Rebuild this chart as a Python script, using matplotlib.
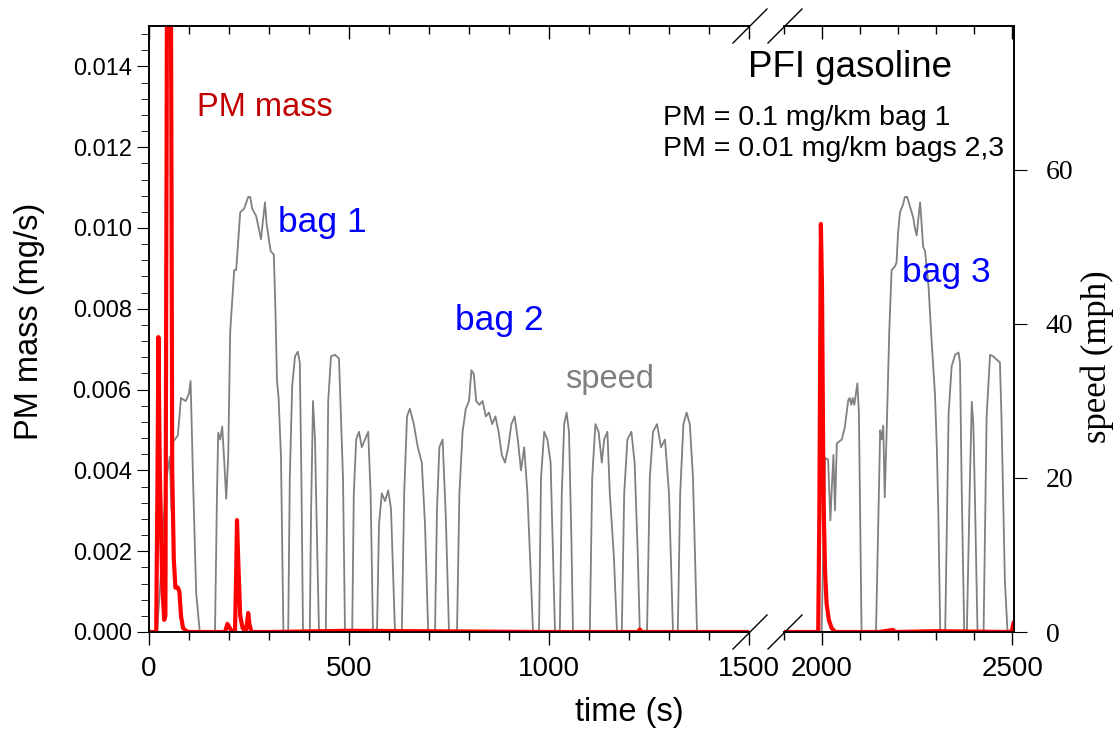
import numpy as np
import matplotlib.pyplot as plt
from matplotlib.ticker import MultipleLocator, AutoMinorLocator
from matplotlib.lines import Line2D

plt.rcParams['font.family'] = ['Liberation Sans', 'DejaVu Sans']

# PM mass (mg/s), cold start + bag 2
pm_t1 = [0, 18, 21, 23.5, 27, 33, 38, 41, 44, 47, 52, 56, 58, 62, 66, 72, 76, 80, 85, 92, 100,
         190, 196, 202, 208, 215, 218, 220, 223, 228, 234, 242, 246, 248, 251, 256, 262, 300, 500,
         1000, 1222, 1227, 1232, 1500]
pm_v1 = [0.0, 0.0, 0.0035, 0.0073, 0.004, 0.0012, 0.0003, 0.0004, 0.012, 0.025, 0.025, 0.012,
         0.004, 0.0018, 0.0011, 0.0011, 0.0010, 0.0004, 0.0001, 0.00003, 0.0,
         0.0, 0.0002, 0.0001, 0.0, 0.0, 0.0015, 0.00277, 0.0018, 0.0004, 0.0001, 0.0, 0.0003,
         0.00047, 0.0002, 0.0, 0.0, 0.0, 0.00003, 0.0, 0.0, 0.00006, 0.0, 0.0]

# PM mass, hot start (bag 3)
pm_t3 = [1900, 1990, 1993, 1997, 2000, 2003, 2005, 2008, 2012, 2018, 2025, 2035, 2150, 2187,
         2192, 2300, 2495, 2500, 2503, 2505]
pm_v3 = [0.0, 0.0, 0.003, 0.0101, 0.0085, 0.0045, 0.0028, 0.0015, 0.0007, 0.0003, 0.0001, 0.0,
         0.0, 0.00005, 0.0, 0.00002, 0.0, 0.00005, 0.0002, 0.00025]

# vehicle speed (mph), bag 1
sp_t_bag1 = [0, 20, 28, 36, 44, 52, 56, 60, 72, 80, 85, 92, 100, 104, 110, 118, 127,
             165, 170, 173, 178, 183, 188, 193, 198, 203, 213, 218, 228, 238, 248, 253, 258, 268,
             276, 280, 284, 290, 294, 304, 312, 316, 320, 324, 330, 336,
             348, 352, 358, 365, 372, 377, 381, 385, 402, 405, 410, 415, 420, 425, 432,
             442, 448, 455, 465, 475, 485, 490, 500]
sp_v_bag1 = [0, 0, 6, 14, 20, 22.8, 15.8, 24.7, 25.5, 30.4, 30.2, 30.0, 31.0, 32.6, 20, 5, 0,
             0, 18, 25.9, 25.0, 26.7, 22.3, 17.3, 22.7, 39.0, 47.0, 47.0, 54.5, 55.0, 56.5, 56.5,
             55.0, 54.0, 52.0, 51.0, 53.0, 55.8, 53.0, 49.5, 49.0, 42.0, 32.6, 30.4, 22.7, 0,
             0, 20, 32, 35.8, 36.4, 35.0, 20, 0, 0, 15, 30, 25, 12, 0, 0,
             0, 30, 35.8, 36, 35.5, 20, 0, 0]

# vehicle speed (mph), bag 2
sp_t_bag2 = [505, 508, 512, 518, 525, 532, 540, 548, 554, 560,
             570, 575, 582, 590, 598, 605, 610, 615,
             632, 638, 645, 652, 662, 672, 682, 690, 698,
             715, 720, 726, 734, 742, 750,
             770, 776, 784, 792, 800, 806, 812, 818, 826, 834, 842, 850, 858, 866, 874, 882,
             890, 898, 906, 914, 922, 930, 938, 946, 954, 960,
             975, 980, 988, 996, 1004, 1010, 1015,
             1027, 1032, 1038, 1044, 1050, 1056, 1060,
             1102, 1108, 1116, 1124, 1132, 1138, 1146, 1152, 1162, 1170,
             1182, 1188, 1196, 1206, 1214, 1222, 1227,
             1245, 1252, 1260, 1270, 1280, 1290, 1300, 1310,
             1322, 1328, 1336, 1344, 1352, 1360, 1366, 1370, 1500]
sp_v_bag2 = [0, 0, 18, 25, 26, 24, 25, 26, 18, 0,
             0, 14, 18, 17, 18.4, 16, 8, 0,
             0, 18, 28, 29, 27, 24, 22, 14, 0,
             0, 16, 24, 25, 15, 0,
             0, 18, 26, 29, 30, 34, 33.5, 30, 29.5, 30, 28, 28.5, 27, 28, 26, 23,
             22, 24, 27, 28, 25, 21, 24, 18, 8, 0,
             0, 20, 26, 25, 22, 10, 0,
             0, 18, 27, 28.5, 26, 12, 0,
             0, 20, 27, 26, 22, 25, 26, 18, 10, 0,
             0, 18, 25, 26, 22, 10, 0,
             0, 20, 26, 27, 24, 25, 18, 0,
             0, 18, 27, 28.5, 27, 20, 8, 0, 0]

# vehicle speed (mph), bag 3
sp_t3 = [1900, 1999, 2008, 2016, 2022, 2026, 2030, 2034, 2039, 2052, 2056, 2060, 2069, 2073,
         2077, 2081, 2085, 2093, 2097, 2104,
         2142, 2153, 2157, 2161, 2165, 2170, 2177, 2183, 2192, 2196, 2200, 2205, 2213, 2218,
         2224, 2230, 2236, 2240, 2244, 2249, 2253, 2258, 2262, 2266, 2271, 2280, 2288, 2297,
         2302, 2306, 2311,
         2324, 2333, 2341, 2350, 2359, 2363, 2367, 2374,
         2381, 2389, 2394, 2398, 2402, 2409,
         2425, 2433, 2442, 2450, 2459, 2468, 2472, 2481, 2488, 2505]
sp_v3 = [0, 0, 22.6, 22.4, 14.5, 19, 23.0, 15.8, 24.5, 25.0, 25.8, 26.6, 30.1, 30.4, 29.5,
         30.4, 29.5, 32.3, 28.5, 0,
         0, 26.2, 25.0, 26.8, 17.5, 26, 39.2, 47.0, 47.5, 48.0, 51.8, 54.5, 55.5, 56.5,
         56.5, 55.5, 54.5, 53.8, 52.5, 51.5, 53.5, 55.8, 53, 50.0, 49.5, 45, 38, 31.0, 24.0,
         15.4, 0,
         0, 28.4, 34.5, 36.0, 36.3, 35, 20, 0,
         0, 19.7, 29.9, 27, 18, 0,
         0, 28, 36.0, 35.8, 35.4, 35.0, 28, 6.7, 0, 0]

sp_t1 = sp_t_bag1 + sp_t_bag2
sp_v1 = sp_v_bag1 + sp_v_bag2

W, H = 1120, 732
fig = plt.figure(figsize=(W / 100, H / 100), dpi=100)
ax1 = fig.add_axes([149 / W, 1 - 632 / H, 600 / W, 606 / H])
ax3 = fig.add_axes([784 / W, 1 - 632 / H, 230 / W, 606 / H])
s1 = ax1.twinx()
s3 = ax3.twinx()

for s, t, v in [(s1, sp_t1, sp_v1), (s3, sp_t3, sp_v3)]:
    s.plot(t, v, color='gray', lw=1.3, zorder=1)
    s.set_ylim(0, 78.7)
for a, t, v in [(ax1, pm_t1, pm_v1), (ax3, pm_t3, pm_v3)]:
    a.set_zorder(s1.get_zorder() + 1)
    a.patch.set_visible(False)
    a.plot(t, v, color='red', lw=3, solid_capstyle='round', clip_on=True)
    a.set_ylim(0, 0.015)

ax1.set_xlim(0, 1500)
ax3.set_xlim(1900, 2505)

for a in (ax1, ax3):
    a.xaxis.set_major_locator(MultipleLocator(500))
    a.xaxis.set_minor_locator(MultipleLocator(100))
    a.tick_params(axis='x', which='both', top=True, bottom=True, labelsize=20, pad=8)
    a.tick_params(axis='x', which='major', length=9, width=1)
    a.tick_params(axis='x', which='minor', length=6, width=1)

ax1.xaxis.set_ticks([0, 500, 1000, 1500])
ax3.xaxis.set_ticks([2000, 2500])
# top ticks point inward, bottom ticks outward
for a in (ax1, ax3):
    for tk in a.xaxis.get_major_ticks() + a.xaxis.get_minor_ticks():
        tk.tick2line.set_marker(3)

ax1.spines['right'].set_visible(False)
ax3.spines['left'].set_visible(False)
s1.spines['right'].set_visible(False)
s3.spines['left'].set_visible(False)
s1.set_yticks([])
ax3.set_yticks([])

ax1.yaxis.set_major_locator(MultipleLocator(0.002))
ax1.yaxis.set_minor_locator(AutoMinorLocator(5))
ax1.yaxis.set_major_formatter(plt.FormatStrFormatter('%.3f'))
ax1.tick_params(axis='y', which='major', length=9, labelsize=17)
ax1.tick_params(axis='y', which='minor', length=6)

s3.set_yticks([0, 20, 40, 60])
s3.tick_params(axis='y', length=9, labelsize=20, pad=14)
for lab in s3.get_yticklabels():
    lab.set_fontfamily('Liberation Serif')

for a in (ax1, ax3, s1, s3):
    for sp in a.spines.values():
        sp.set_linewidth(1.2)

# break marks
d = 17
for xp in (750, 785):
    for yp in (26, 632):
        fig.add_artist(Line2D([(xp - d) / W, (xp + d) / W], [1 - (yp + d) / H, 1 - (yp - d) / H],
                              color='black', lw=1))


def ftext(x, y, s, **kw):
    fig.text(x / W, 1 - y / H, s, va='baseline', **kw)


ftext(197, 116, 'PM mass', color='#c00000', fontsize=23.5)
ftext(278, 232, 'bag 1', color='blue', fontsize=25.5)
ftext(455, 330, 'bag 2', color='blue', fontsize=25.5)
ftext(565, 388, 'speed', color='gray', fontsize=23.5)
ftext(902, 282, 'bag 3', color='blue', fontsize=25.5)
ftext(748, 77, 'PFI gasoline', color='black', fontsize=26.5)
ftext(663, 125, 'PM = 0.1 mg/km bag 1', color='black', fontsize=20.5)
ftext(663, 156, 'PM = 0.01 mg/km bags 2,3', color='black', fontsize=20.5)

fig.text(629 / W, 1 - 712 / H, 'time (s)', ha='center', va='center', fontsize=23.5)
fig.text(30 / W, 1 - 321 / H, 'PM mass (mg/s)', ha='center', va='center', rotation=90,
         fontsize=23.5)
fig.text(1097 / W, 1 - 357 / H, 'speed (mph)', ha='center', va='center', rotation=90,
         fontsize=25, family='Liberation Serif')

fig.savefig('out.png', dpi=100)
